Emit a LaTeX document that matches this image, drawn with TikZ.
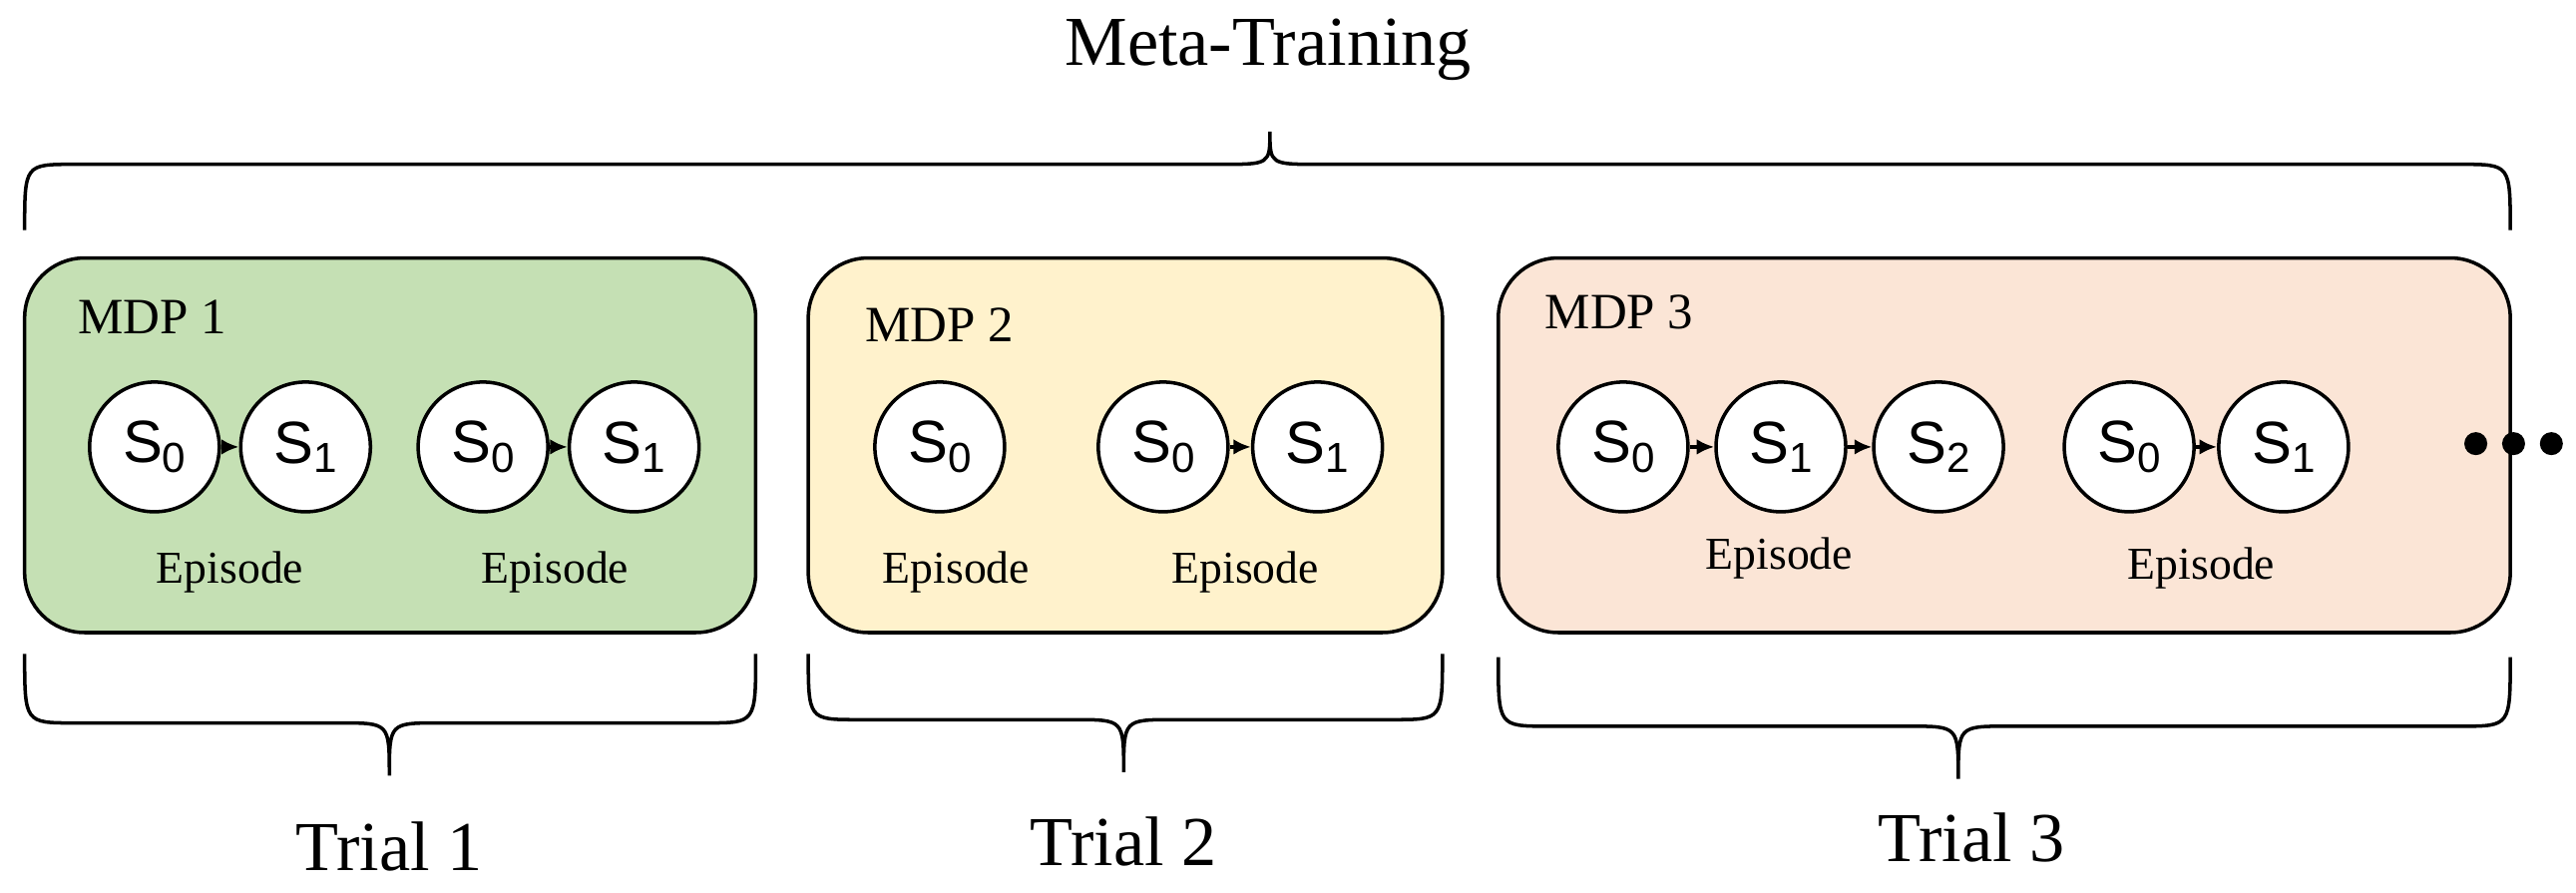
\documentclass[tikz,border=0pt]{standalone}
\usepackage{fontspec}
\usetikzlibrary{arrows.meta}
\setmainfont{Liberation Serif}
\newfontfamily\sansf{Liberation Sans}
\definecolor{cg}{HTML}{C5E0B4}
\definecolor{cy}{HTML}{FFF2CC}
\definecolor{co}{HTML}{FBE5D6}
\newcommand\mybrace[6]{%
 \draw[brc] (#1,#4) .. controls (#1,#5) .. (#1+30,#5) -- (#3-30,#5) .. controls (#3,#5) .. (#3,#6)
   .. controls (#3,#5) .. (#3+30,#5) -- (#2-30,#5) .. controls (#2,#5) .. (#2,#4);}
\newcommand\sub[1]{\raisebox{-0.3ex}{\fontsize{12}{14}\selectfont #1}}
\begin{document}
\begin{tikzpicture}[x=0.01647cm,y=-0.01647cm,
  brc/.style={line width=1pt},
  box/.style={draw,line width=1pt,rounded corners=0.6cm},
  st/.style={circle,draw,fill=white,line width=1pt,minimum size=1.3cm,inner sep=0pt,font=\sansf\fontsize{17}{20}\selectfont},
  ar/.style={-{Latex[length=5pt,width=4.5pt]},line width=1pt},
  ep/.style={font=\fontsize{13}{15}\selectfont},
  mdp/.style={anchor=west,font=\fontsize{14.5}{17}\selectfont},
  big/.style={font=\fontsize{20}{24}\selectfont}]
\useasboundingbox (0,0) rectangle (1568,543);
\node[big] (title) at (772,30) {Meta-Training};
\mybrace{15}{1528}{773}{140}{100}{80}
\draw[box,fill=cg] (15,157) rectangle (460,385);
\draw[box,fill=cy] (492,157) rectangle (878,385);
\draw[box,fill=co] (912,157) rectangle (1528,385);
\node[mdp] (m1) at (40,193) {MDP 1};
\node[mdp] (m2) at (519,198) {MDP 2};
\node[mdp] (m3) at (933,190) {MDP 3};
\node[st] (a0) at (94,272) {S\sub{0}};
\node[st] (a1) at (186,272) {S\sub{1}};
\node[st] (b0) at (294,272) {S\sub{0}};
\node[st] (b1) at (386,272) {S\sub{1}};
\node[st] (c0) at (572,272) {S\sub{0}};
\node[st] (d0) at (708,272) {S\sub{0}};
\node[st] (d1) at (802,272) {S\sub{1}};
\node[st] (e0) at (988,272) {S\sub{0}};
\node[st] (e1) at (1084,272) {S\sub{1}};
\node[st] (e2) at (1180,272) {S\sub{2}};
\node[st] (f0) at (1296,272) {S\sub{0}};
\node[st] (f1) at (1390,272) {S\sub{1}};
\draw[ar] (a0)--(a1); \draw[ar] (b0)--(b1); \draw[ar] (d0)--(d1);
\draw[ar] (e0)--(e1); \draw[ar] (e1)--(e2); \draw[ar] (f0)--(f1);
\node[ep] (p1) at (140,348) {Episode};
\node[ep] (p2) at (338,348) {Episode};
\node[ep] (p3) at (582,348) {Episode};
\node[ep] (p4) at (758,348) {Episode};
\node[ep] (p5) at (1083,340) {Episode};
\node[ep] (p6) at (1340,346) {Episode};
\foreach \x in {1507,1530,1553} \fill (\x,270) circle (7);
\mybrace{15}{460}{237}{398}{440}{472}
\mybrace{492}{878}{684}{398}{438}{470}
\mybrace{912}{1528}{1192}{400}{442}{474}
\node[big] (t1) at (237,515) {Trial 1};
\node[big] (t2) at (684,512) {Trial 2};
\node[big] (t3) at (1200,510) {Trial 3};
\end{tikzpicture}
\end{document}
